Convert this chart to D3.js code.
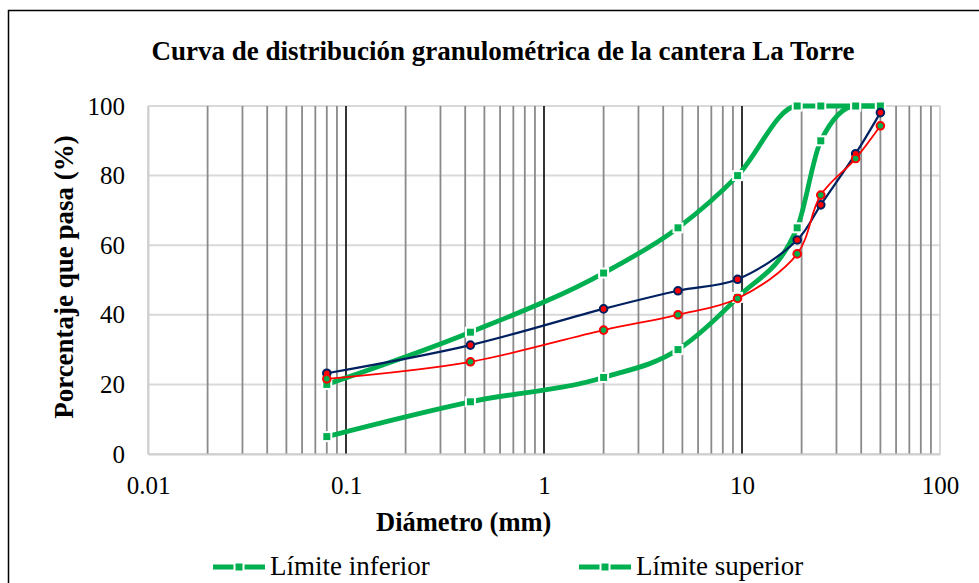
<!DOCTYPE html>
<html>
<head>
<meta charset="utf-8">
<script src="https://cdn.jsdelivr.net/npm/d3@7"></script>
<style>
  body { margin: 0; background: #fff; }
  svg { display: block; font-family: "Liberation Serif", "Times New Roman", serif; }
</style>
</head>
<body>
<svg id="chart"></svg>
<script>
// tamices (mm) y porcentajes que pasan
const diametros = [0.08, 0.425, 2, 4.75, 9.5, 19, 25, 37.5, 50];
const limiteInferior = [5, 15, 22, 30, 45, 65, 90, 100, 100];
const limiteSuperior = [20, 35, 52, 65, 80, 100, 100, 100, 100];
const muestraA = [23.2, 31.3, 41.7, 46.9, 50.2, 61.5, 71.6, 86.3, 98.1];
const muestraB = [21.6, 26.5, 35.6, 40.0, 44.7, 57.5, 74.4, 84.9, 94.3];
const xTickLabels = [0.01, 0.1, 1, 10, 100];
const yTickLabels = [0, 20, 40, 60, 80, 100];
const legendNames = ["Límite inferior", "Límite superior"];

const W = 979, H = 583;
const margin = { top: 106, right: 39, bottom: 129, left: 148 };

const svg = d3.select("#chart")
    .attr("width", W)
    .attr("height", H);

// marco exterior
svg.append("rect")
    .attr("x", 8.5).attr("y", 10.5)
    .attr("width", 1000).attr("height", 700)
    .attr("fill", "none")
    .attr("stroke", "#000")
    .attr("stroke-width", 1.5);

const x = d3.scaleLog()
    .domain([0.01, 100])
    .range([margin.left, W - margin.right]);

const y = d3.scaleLinear()
    .domain([0, 100])
    .range([H - margin.bottom, margin.top]);

// lineas horizontales
svg.append("g")
    .selectAll("line")
    .data(yTickLabels)
    .enter().append("line")
    .attr("x1", x(0.01)).attr("x2", x(100))
    .attr("y1", d => y(d)).attr("y2", d => y(d))
    .attr("stroke", "#d9d9d9")
    .attr("stroke-width", 2);

// lineas verticales (menores grises, mayores negras)
svg.append("g")
    .selectAll("line")
    .data(x.ticks())
    .enter().append("line")
    .attr("x1", d => x(d)).attr("x2", d => x(d))
    .attr("y1", y(0)).attr("y2", y(100))
    .attr("stroke", d => {
        const l = Math.log10(d);
        if (Math.abs(l - Math.round(l)) > 1e-9) return "#8a8a8a";
        if (d === 0.01 || d === 100) return "#d0d0d0";
        return "#000";
    })
    .attr("stroke-width", d => {
        const l = Math.log10(d);
        return Math.abs(l - Math.round(l)) > 1e-9 ? 1.8 : 1.6;
    });

// ejes
const xAxis = d3.axisBottom(x)
    .tickValues(xTickLabels)
    .tickFormat(d => String(d))
    .tickSize(0)
    .tickPadding(22);

svg.append("g")
    .attr("transform", `translate(0, ${y(0)})`)
    .call(xAxis)
    .call(g => g.select(".domain").attr("stroke", "#d0d0d0").attr("stroke-width", 2))
    .call(g => g.selectAll("text")
        .attr("font-size", 25)
        .attr("font-family", "Liberation Serif")
        .attr("fill", "#000"));

const yAxis = d3.axisLeft(y)
    .tickValues(yTickLabels)
    .tickSize(0)
    .tickPadding(23);

svg.append("g")
    .attr("transform", `translate(${x(0.01)}, 0)`)
    .call(yAxis)
    .call(g => g.select(".domain").attr("stroke", "#d0d0d0").attr("stroke-width", 2))
    .call(g => g.selectAll("text")
        .attr("font-size", 25)
        .attr("font-family", "Liberation Serif")
        .attr("fill", "#000"));

// curvas
function serie(values) {
    return diametros.map((d, i) => ({ d: d, p: values[i] }));
}

const lineSmooth = d3.line()
    .x(d => x(d.d))
    .y(d => y(d.p))
    .curve(d3.curveCatmullRom.alpha(0.5));

const lineLimit = d3.line()
    .x(d => x(d.d))
    .y(d => y(d.p))
    .curve(d3.curveMonotoneX);

const green = "#00b050";
const navy = "#002060";
const red = "#ff0000";

[limiteInferior, limiteSuperior].forEach(vals => {
    svg.append("path")
        .datum(serie(vals))
        .attr("d", lineLimit)
        .attr("fill", "none")
        .attr("stroke", green)
        .attr("stroke-width", 4.8);
});
[limiteInferior, limiteSuperior].forEach(vals => {
    svg.append("g")
        .selectAll("rect")
        .data(serie(vals))
        .enter().append("rect")
        .attr("x", d => x(d.d) - 4.5)
        .attr("y", d => y(d.p) - 4.5)
        .attr("width", 9).attr("height", 9)
        .attr("fill", green)
        .attr("stroke", "#fff")
        .attr("stroke-width", 2);
});

function drawSample(vals, lineColor, fillColor, lw) {
    svg.append("path")
        .datum(serie(vals))
        .attr("d", lineSmooth)
        .attr("fill", "none")
        .attr("stroke", lineColor)
        .attr("stroke-width", lw);
    svg.append("g")
        .selectAll("circle")
        .data(serie(vals))
        .enter().append("circle")
        .attr("cx", d => x(d.d))
        .attr("cy", d => y(d.p))
        .attr("r", 3.8)
        .attr("fill", fillColor)
        .attr("stroke", lineColor)
        .attr("stroke-width", 2);
}
drawSample(muestraA, navy, red, 2.2);
drawSample(muestraB, red, green, 1.8);

// titulos
svg.append("text")
    .attr("x", 503).attr("y", 60)
    .attr("text-anchor", "middle")
    .attr("font-size", 27)
    .attr("font-weight", "bold")
    .text("Curva de distribución granulométrica de la cantera La Torre");

svg.append("text")
    .attr("x", 376).attr("y", 531)
    .attr("font-size", 26.5)
    .attr("font-weight", "bold")
    .text("Diámetro (mm)");

svg.append("text")
    .attr("transform", `translate(73, ${(y(0) + y(100)) / 2 - 3}) rotate(-90)`)
    .attr("text-anchor", "middle")
    .attr("font-size", 27)
    .attr("font-weight", "bold")
    .text("Porcentaje que pasa (%)");

// leyenda
const legendX = [213, 579];
const legend = svg.append("g")
    .selectAll("g")
    .data(legendNames)
    .enter().append("g")
    .attr("transform", (d, i) => `translate(${legendX[i]}, 567)`);

legend.append("line")
    .attr("x1", 0).attr("x2", 52)
    .attr("y1", 0).attr("y2", 0)
    .attr("stroke", green)
    .attr("stroke-width", 4.8);
legend.append("rect")
    .attr("x", 21.5).attr("y", -4.5)
    .attr("width", 9).attr("height", 9)
    .attr("fill", green)
    .attr("stroke", "#fff")
    .attr("stroke-width", 2);
legend.append("text")
    .attr("x", 57).attr("y", 8)
    .attr("font-size", 27)
    .text(d => d);
</script>
</body>
</html>
